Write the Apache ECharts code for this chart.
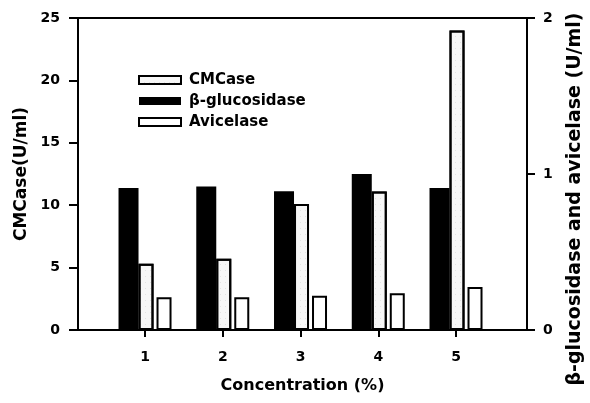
<!DOCTYPE html>
<html>
<head>
<meta charset="utf-8">
<title>Enzyme activity vs concentration</title>
<script src="https://cdn.jsdelivr.net/npm/echarts@6/dist/echarts.min.js"></script>
<style>
  html, body { margin: 0; padding: 0; background: #fff; }
  #chart { width: 590px; height: 403px; }
</style>
</head>
<body>
<div id="chart"></div>
<script>
// 数据
var categories = [1, 2, 3, 4, 5];
var cmcase = [5.3, 5.7, 10.1, 11.1, 24.0];              // left axis, U/ml
var betaGlucosidase = [0.91, 0.92, 0.89, 1.0, 0.91];    // right axis, U/ml
var avicelase = [0.21, 0.21, 0.22, 0.235, 0.275];       // right axis, U/ml
var leftTicks = [0, 5, 10, 15, 20, 25];
var rightTicks = [0, 1, 2];

function pairs(values) {
  return categories.map(function (c, i) { return [c, values[i]]; });
}

var font = 'DejaVu Sans';
var chart = echarts.init(document.getElementById('chart'));

var option = {
  backgroundColor: '#fff',
  animation: false,
  // 固定绘图区, 不让标签挤压网格
  grid: { left: 78, top: 18, right: 63, bottom: 73, outerBoundsMode: 'none' },
  legend: {
    orient: 'vertical',
    left: 133,
    top: 67,
    icon: 'rect',
    itemWidth: 42,
    itemHeight: 8,
    itemGap: 5,
    data: ['CMCase', 'β-glucosidase', 'Avicelase'],
    textStyle: { fontFamily: font, fontWeight: 'bold', fontSize: 15, color: '#000', lineHeight: 16, padding: [0, 0, 0, 3] }
  },
  xAxis: [{
    type: 'value',
    min: 0.138,
    max: 5.913,
    name: 'Concentration (%)',
    nameLocation: 'middle',
    nameGap: 48,
    nameTextStyle: { fontFamily: font, fontWeight: 'bold', fontSize: 16, color: '#000', verticalAlign: 'top' },
    axisLine: { lineStyle: { color: '#000', width: 2 } },
    axisTick: { customValues: categories, length: 7, lineStyle: { color: '#000', width: 2 } },
    axisLabel: { customValues: categories, margin: 20, fontFamily: font, fontWeight: 'bold', fontSize: 14, color: '#000' },
    splitLine: { show: false }
  }, {
    // 顶部边框线
    type: 'value',
    position: 'top',
    min: 0.138,
    max: 5.913,
    axisLine: { show: true, onZero: false, lineStyle: { color: '#000', width: 2 } },
    axisTick: { show: false },
    axisLabel: { show: false },
    splitLine: { show: false }
  }],
  yAxis: [{
    type: 'value',
    min: leftTicks[0],
    max: leftTicks[leftTicks.length - 1],
    interval: 5,
    name: 'CMCase(U/ml)',
    nameLocation: 'middle',
    nameGap: 46,
    nameTextStyle: { fontFamily: font, fontWeight: 'bold', fontSize: 17, color: '#000' },
    axisLine: { show: true, lineStyle: { color: '#000', width: 2 } },
    axisTick: { show: true, length: 9, lineStyle: { color: '#000', width: 2 } },
    axisLabel: { margin: 18, fontFamily: font, fontWeight: 'bold', fontSize: 14, color: '#000' },
    splitLine: { show: false }
  }, {
    type: 'value',
    position: 'right',
    min: rightTicks[0],
    max: rightTicks[rightTicks.length - 1],
    interval: 1,
    name: 'β-glucosidase and avicelase (U/ml)',
    nameLocation: 'middle',
    nameGap: 39,
    nameTextStyle: { fontFamily: font, fontWeight: 'bold', fontSize: 19, color: '#000', padding: [0, 50, 0, 0] },
    axisLine: { show: true, lineStyle: { color: '#000', width: 2 } },
    axisTick: { show: true, length: 8, lineStyle: { color: '#000', width: 2 } },
    axisLabel: { margin: 16, fontFamily: font, fontWeight: 'bold', fontSize: 14, color: '#000' },
    splitLine: { show: false }
  }],
  series: [{
    name: 'β-glucosidase',
    type: 'bar',
    yAxisIndex: 1,
    barWidth: 20,
    barGap: '0%',
    itemStyle: { color: '#000' },
    data: pairs(betaGlucosidase)
  }, {
    name: 'CMCase',
    type: 'bar',
    yAxisIndex: 0,
    barWidth: 15,
    barGap: '0%',
    itemStyle: {
      color: '#f7f7f7',
      borderColor: '#000',
      borderWidth: 2,
      // 点状填充
      decal: {
        symbol: 'rect',
        symbolSize: 0.5,
        color: 'rgba(0,0,0,0.3)',
        dashArrayX: [1, 4],
        dashArrayY: [1, 5],
        rotation: 0
      }
    },
    data: pairs(cmcase)
  }, {
    // 空白间隔 (no marks, only keeps a small gap before Avicelase)
    name: 'spacer',
    type: 'bar',
    barWidth: 3,
    barGap: '0%',
    silent: true,
    data: []
  }, {
    name: 'Avicelase',
    type: 'bar',
    yAxisIndex: 1,
    barWidth: 15,
    barGap: '0%',
    itemStyle: { color: '#fff', borderColor: '#000', borderWidth: 2 },
    data: pairs(avicelase)
  }]
};

chart.setOption(option);
</script>
</body>
</html>
